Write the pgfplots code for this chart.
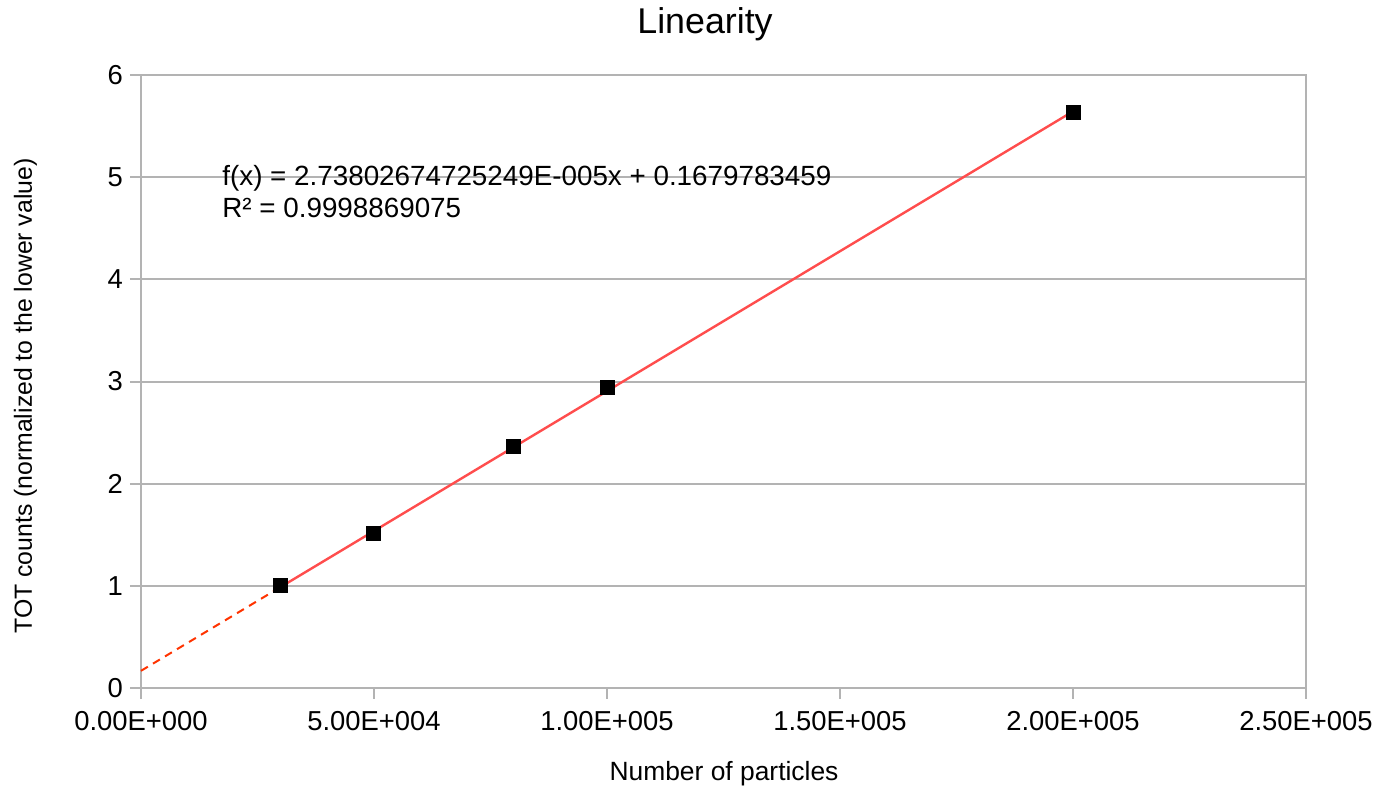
\documentclass[border=0pt]{standalone}
\usepackage{pgfplots}
\pgfplotsset{compat=1.18}
\usepackage{fontspec}
\setmainfont{Liberation Sans}
\definecolor{gridgray}{HTML}{B3B3B3}
\definecolor{trendred}{HTML}{FF4D4D}
\definecolor{dashred}{HTML}{FF3300}
\newcommand{\tickfont}{\fontsize{13.7}{16}\selectfont}
\begin{document}
\begin{tikzpicture}
\path[use as bounding box] (-70.5pt,-51.5pt) rectangle (618pt,344pt);
\begin{axis}[
  at={(0pt,0pt)}, anchor=south west,
  scale only axis, width=582.5pt, height=306.5pt,
  xmin=0, xmax=250000, ymin=0, ymax=6,
  xtick={0,50000,100000,150000,200000,250000},
  xticklabels={0.00E+000,5.00E+004,1.00E+005,1.50E+005,2.00E+005,2.50E+005},
  ytick={0,1,2,3,4,5,6},
  yticklabels={0,1,2,3,4,5,6},
  scaled x ticks=false,
  ymajorgrids,
  grid style={draw=gridgray, line width=1pt},
  axis line style={draw=gridgray, line width=1pt},
  tick style={draw=gridgray, line width=1pt},
  tick align=outside, major tick length=5.5pt,
  xtick pos=bottom, ytick pos=left,
  ticklabel style={font=\tickfont, text=black},
  xticklabel style={anchor=base, yshift=-16pt},
  yticklabel style={anchor=east},
  clip=false,
]
\addplot[dashred, line width=1pt, dash pattern=on 4pt off 3pt] coordinates {(0,0.16798) (30000,0.98939)};
\addplot[trendred, line width=1.2pt] coordinates {(30000,0.98939) (200000,5.64403)};
\addplot[only marks, mark=square*, mark size=3.5pt, mark options={fill=black, draw=black, line width=0.5pt}] coordinates {
(30000,1.00) (50000,1.51) (80000,2.36) (100000,2.94) (200000,5.63)};
\end{axis}
\node[anchor=base, font=\fontsize{17.9}{21}\selectfont] at (282pt,327pt) {Linearity};
\node[anchor=base, font=\fontsize{13.2}{16}\selectfont] at (291.5pt,-46.5pt) {Number of particles};
\node[anchor=base, rotate=90, font=\fontsize{12.4}{15}\selectfont] at (-54.5pt,146pt) {TOT counts (normalized to the lower value)};
\node[anchor=base west, inner sep=0pt, font=\fontsize{13.9}{16}\selectfont] at (40.5pt,251pt) {f(x) = 2.73802674725249E-005x + 0.1679783459};
\node[anchor=base west, inner sep=0pt, font=\fontsize{13.9}{16}\selectfont] at (40.5pt,235pt) {R² = 0.9998869075};
\end{tikzpicture}
\end{document}
